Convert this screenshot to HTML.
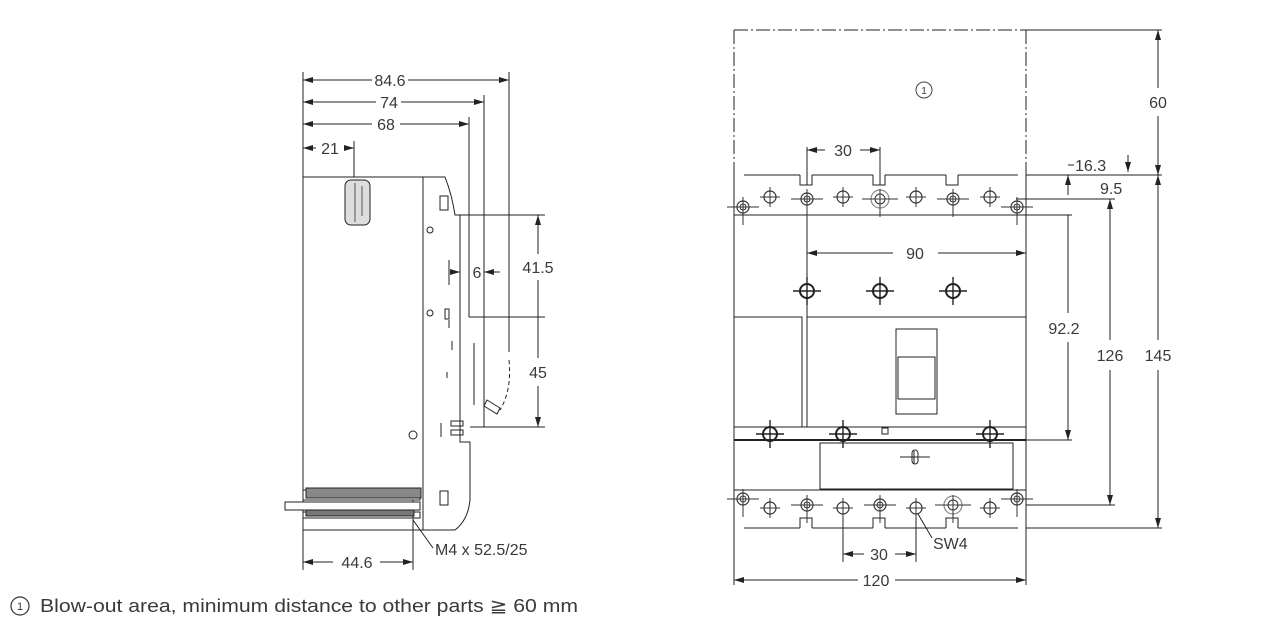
<!DOCTYPE html>
<html><head><meta charset="utf-8"><style>
html,body{margin:0;padding:0;background:#fff;width:1280px;height:638px;overflow:hidden}
svg{display:block}
text{font-family:"Liberation Sans",sans-serif;fill:#3a3a3a}
</style></head><body>
<svg width="1280" height="638" viewBox="0 0 1280 638" xmlns="http://www.w3.org/2000/svg">
<defs>
<marker id="a" viewBox="0 0 10 6" refX="10" refY="3" markerWidth="10" markerHeight="6" orient="auto-start-reverse" markerUnits="userSpaceOnUse"><path d="M0,0 L10,3 L0,6 z" fill="#222"/></marker>
<g id="t"><circle r="6" fill="none" stroke="#333" stroke-width="1.2"/><path d="M-10,0H10M0,-10V10" stroke="#333" stroke-width="1"/></g>
<g id="tb"><circle r="6" fill="none" stroke="#333" stroke-width="1.2"/><circle r="3" fill="none" stroke="#333"/><path d="M-16,0H16M0,-10V18" stroke="#333" stroke-width="1"/></g>
<g id="tx"><circle r="9" fill="none" stroke="#888" stroke-width="1.2"/><circle r="5" fill="none" stroke="#333"/><path d="M-18,0H18M0,-10V18" stroke="#333"/></g>
<g id="sc"><circle r="7" fill="none" stroke="#222" stroke-width="2"/><path d="M-14,0H14M0,-14V14" stroke="#222" stroke-width="1.4"/></g>
</defs>
<g stroke="#222" stroke-width="1" fill="none">
<path d="M303,72V570M303,177H423V530H303"/>
<path d="M423,177H445Q452,195 455,215H460V442H470V500Q468,520 455,530H423"/>
<path d="M455,215H545M469,317H545M470,427H545"/>
<path d="M509,72V352M484,95V427M469,117V317M354,141V177M413,500V570"/>
<path d="M509,360Q512,390 500,410" stroke-dasharray="4,3"/>
<rect x="345" y="180" width="25" height="45" rx="6" fill="#ddd"/>
<path d="M355,183V222M362,186V216" stroke="#555"/>
<rect x="440" y="196" width="8" height="14"/><rect x="440" y="491" width="8" height="14"/>
<circle cx="430" cy="230" r="3"/><circle cx="430" cy="313" r="3"/><circle cx="413" cy="435" r="4"/>
<path d="M449,260V285M449,320V328M452,341V350M447,372V378M474,343V405M441,423V437"/>
<rect x="445" y="309" width="4" height="10"/><rect x="451" y="421" width="12" height="5"/><rect x="451" y="430" width="12" height="5"/>
<path d="M487,400L500,408L497,414L484,406Z"/>
<path d="M303,490H420V500H303M303,512H420V518H303" />
<rect x="306" y="488" width="115" height="10" fill="#888"/>
<rect x="306" y="510" width="108" height="6" fill="#777"/>
<rect x="285" y="502" width="135" height="8" fill="#fff"/>
<path d="M413,520L433,548"/>
<path d="M303,80H372M408,80H509" marker-start="url(#a)" marker-end="url(#a)"/>
<path d="M303,102H376M401,102H484" marker-start="url(#a)" marker-end="url(#a)"/>
<path d="M303,124H372M400,124H469" marker-start="url(#a)" marker-end="url(#a)"/>
<path d="M303,148H316M344,148H354" marker-start="url(#a)" marker-end="url(#a)"/>
<path d="M538,215V254M538,280V317M538,317V358M538,386V427" marker-start="url(#a)" marker-end="url(#a)"/>
<path d="M452,272H460" marker-end="url(#a)"/><path d="M500,272H484" marker-end="url(#a)"/>
<path d="M303,562H333M380,562H413" marker-start="url(#a)" marker-end="url(#a)"/>
<path d="M734,30H1026" stroke-dasharray="14,3,2,3"/>
<path d="M734,30V175" stroke-dasharray="14,3,2,3"/>
<path d="M1026,30V175" stroke-dasharray="14,3,2,3"/>
<path d="M1026,30H1162M1026,175H1162M1026,528H1162M1016,199H1115M1026,505H1115M1026,440H1072M1026,215H1072"/>
<path d="M734,175V585M1026,175V585"/>
<path d="M744,175H800M812,175H873M885,175H946M958,175H1018M734,215H1026"/>
<path d="M800,175V185H812V175M873,175V185H885V175M946,175V185H958V175"/>
<path d="M807,147V185M880,147V185"/>
<path d="M734,317H802V427H734M807,317H1026M807,215V427H1026"/>
<rect x="896" y="329" width="41" height="85"/><rect x="898" y="357" width="37" height="42"/>
<path d="M734,427H1026"/>
<path d="M734,440H1026" stroke-width="2"/>
<rect x="820" y="443" width="193" height="46"/>
<path d="M900,457H930M914,451V464"/><rect x="912" y="450" width="6" height="14" rx="3"/>
<rect x="882" y="428" width="6" height="6"/>
<path d="M744,528H800M812,528H873M885,528H946M958,528H1018M734,490H1026"/>
<path d="M800,528V518H812V528M873,528V518H885V528M946,528V518H958V528"/>
<path d="M843,507V562M916,507V562M918,514L932,538"/>
<path d="M807,150H825M860,150H880" marker-start="url(#a)" marker-end="url(#a)"/>
<path d="M807,253H893M938,253H1026" marker-start="url(#a)" marker-end="url(#a)"/>
<path d="M843,554H864M895,554H916" marker-start="url(#a)" marker-end="url(#a)"/>
<path d="M734,580H858M895,580H1026" marker-start="url(#a)" marker-end="url(#a)"/>
<path d="M1158,30V88M1158,116V175" marker-start="url(#a)" marker-end="url(#a)"/>
<path d="M1158,175V340M1158,370V528" marker-start="url(#a)" marker-end="url(#a)"/>
<path d="M1110,199V340M1110,370V505" marker-start="url(#a)" marker-end="url(#a)"/>
<path d="M1068,175V195M1068,215V313M1068,342V440" marker-start="url(#a)" marker-end="url(#a)"/>
<path d="M1068,165H1074M1128,155V172" marker-end="url(#a)"/>
<circle cx="924" cy="90" r="8" stroke="#444"/>
</g>
<g>
<use href="#tb" x="743" y="207"/><use href="#t" x="770" y="197"/><use href="#tb" x="807" y="199"/><use href="#t" x="843" y="197"/><use href="#tx" x="880" y="199"/><use href="#t" x="916" y="197"/><use href="#tb" x="953" y="199"/><use href="#t" x="990" y="197"/><use href="#tb" x="1017" y="207"/>
<use href="#sc" x="807" y="291"/><use href="#sc" x="880" y="291"/><use href="#sc" x="953" y="291"/>
<use href="#sc" x="770" y="434"/><use href="#sc" x="843" y="434"/><use href="#sc" x="990" y="434"/>
<use href="#tb" x="743" y="499"/><use href="#t" x="770" y="508"/><use href="#tb" x="807" y="505"/><use href="#t" x="843" y="508"/><use href="#tb" x="880" y="505"/><use href="#t" x="916" y="508"/><use href="#tx" x="953" y="505"/><use href="#t" x="990" y="508"/><use href="#tb" x="1017" y="499"/>
</g>
<g font-size="16">
<text x="390" y="86" text-anchor="middle">84.6</text>
<text x="389" y="108" text-anchor="middle">74</text>
<text x="386" y="130" text-anchor="middle">68</text>
<text x="330" y="154" text-anchor="middle">21</text>
<text x="477" y="278" text-anchor="middle">6</text>
<text x="538" y="273" text-anchor="middle">41.5</text>
<text x="538" y="378" text-anchor="middle">45</text>
<text x="357" y="568" text-anchor="middle">44.6</text>
<text x="435" y="555">M4 x 52.5/25</text>
<text x="843" y="156" text-anchor="middle">30</text>
<text x="915" y="259" text-anchor="middle">90</text>
<text x="879" y="560" text-anchor="middle">30</text>
<text x="933" y="549">SW4</text>
<text x="876" y="586" text-anchor="middle">120</text>
<text x="1158" y="108" text-anchor="middle">60</text>
<text x="1158" y="361" text-anchor="middle">145</text>
<text x="1110" y="361" text-anchor="middle">126</text>
<text x="1064" y="334" text-anchor="middle">92.2</text>
<text x="1075" y="171">16.3</text>
<text x="1100" y="194">9.5</text>
<text x="924" y="94" text-anchor="middle" font-size="10">1</text>
</g>
<circle cx="20" cy="606" r="9" fill="none" stroke="#333" stroke-width="1.2"/>
<text x="20" y="610" text-anchor="middle" font-size="11">1</text>
<text x="40" y="612" font-size="18" textLength="538" lengthAdjust="spacingAndGlyphs">Blow-out area, minimum distance to other parts ≧ 60 mm</text>
</svg>
</body></html>
